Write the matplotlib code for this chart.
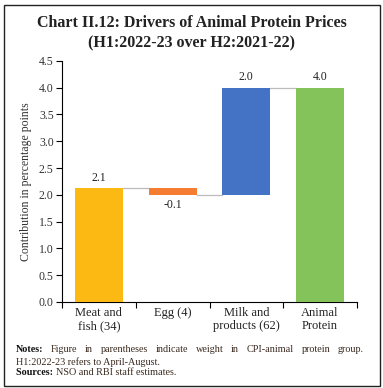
import matplotlib
matplotlib.use("Agg")
import matplotlib.pyplot as plt
from matplotlib.patches import Rectangle
import numpy as np

# data
categories = ["Meat and\nfish (34)", "Egg (4)", "Milk and\nproducts (62)", "Animal\nProtein"]
contrib = [2.13, -0.13, 2.0]
total = 4.0
value_labels = ["2.1", "-0.1", "2.0", "4.0"]
colors = ["#FDB913", "#F47D32", "#4472C4", "#84C25A"]
yticks = [0.0, 0.5, 1.0, 1.5, 2.0, 2.5, 3.0, 3.5, 4.0, 4.5]

plt.rcParams['font.family'] = ['Liberation Serif', 'DejaVu Serif']

fig = plt.figure(figsize=(3.83, 3.88), dpi=100)
ax = fig.add_axes([0.162, 0.222, 0.770, 0.621])

# waterfall bases
bases = []
running = 0.0
for v in contrib:
    bases.append(running if v >= 0 else running + v)
    running += v
heights = [abs(v) for v in contrib]
bases.append(0.0)
heights.append(total)

x = np.arange(len(categories))
width = 0.65
ax.bar(x, heights, bottom=bases, width=width, color=colors, zorder=3)

# connector lines
levels = np.cumsum(contrib)
for i, lvl in enumerate(levels):
    ax.plot([x[i] + width / 2, x[i + 1] - width / 2], [lvl, lvl],
            color="#BBBBBB", linewidth=0.9, zorder=2)

# value labels
tops = [b + h for b, h in zip(bases, heights)]
for i, lab in enumerate(value_labels):
    neg = i < len(contrib) and contrib[i] < 0
    if neg:
        ax.text(x[i], bases[i] - 0.08, lab, ha="center", va="top", fontsize=8.5, color="#222222")
    else:
        ax.text(x[i], tops[i] + 0.08, lab, ha="center", va="bottom", fontsize=8.5, color="#222222")

ax.set_xlim(-0.5, 3.5)
ax.set_ylim(0, 4.5)
ax.set_yticks(yticks)
ax.set_yticklabels([f"{t:.1f}" for t in yticks], fontsize=8.5, color="#333333")
ax.set_xticks(x)
ax.set_xticklabels(categories, fontsize=9, color="#222222", linespacing=1.1)
ax.set_xticks(np.arange(-0.5, 3.6, 1.0), minor=True)
ax.tick_params(axis="x", which="major", length=0, pad=4)
ax.tick_params(axis="x", which="minor", length=4, direction="out", width=0.8)
ax.tick_params(axis="y", length=4, width=0.8, pad=2)
ax.spines["top"].set_visible(False)
ax.spines["right"].set_visible(False)
ax.spines["left"].set_linewidth(0.8)
ax.spines["bottom"].set_linewidth(0.8)
ax.set_ylabel("Contribution in percentage points", fontsize=8.5, color="#333333", labelpad=5)

# title
fig.text(0.5, 0.942, "Chart II.12: Drivers of Animal Protein Prices", ha="center", va="center",
         fontsize=11.5, fontweight="bold", color="#222222")
fig.text(0.5, 0.889, "(H1:2022-23 over H2:2021-22)", ha="center", va="center",
         fontsize=11.5, fontweight="bold", color="#222222")

# notes (first line justified between left and right margins)
renderer = fig.canvas.get_renderer()
W = fig.bbox.width
left_px, right_px = 16, 364
note_fs = 7.3
note_color = "#3a2a20"


def justified_line(words, y, bold_first=False):
    objs = []
    for k, w in enumerate(words):
        weight = "bold" if (bold_first and k == 0) else "normal"
        col = "#111111" if weight == "bold" else note_color
        objs.append(fig.text(0, y, w, fontsize=note_fs, fontweight=weight,
                             va="center", ha="left", color=col))
    widths = [o.get_window_extent(renderer).width for o in objs]
    gap = (right_px - left_px - sum(widths)) / (len(words) - 1)
    xpos = left_px
    for o, w in zip(objs, widths):
        o.set_x(xpos / W)
        xpos += w + gap


def plain_line(parts, y):
    xpos = left_px
    for txt, weight in parts:
        col = "#111111" if weight == "bold" else note_color
        t = fig.text(xpos / W, y, txt, fontsize=note_fs, fontweight=weight,
                     va="center", ha="left", color=col)
        xpos += t.get_window_extent(renderer).width


justified_line("Notes: Figure in parentheses indicate weight in CPI-animal protein group.".split(),
               0.098, bold_first=True)
plain_line([("H1:2022-23 refers to April-August.", "normal")], 0.067)
plain_line([("Sources: ", "bold"), ("NSO and RBI staff estimates.", "normal")], 0.039)

# frame
fig.patches.append(Rectangle((0.011, 0.006), 0.98, 0.982, transform=fig.transFigure,
                             fill=False, edgecolor="#222222", linewidth=1.0))

fig.savefig("out.png", dpi=100)
